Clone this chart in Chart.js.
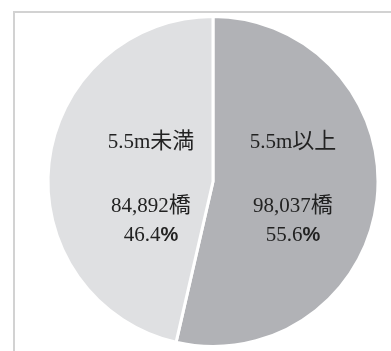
<!DOCTYPE html>
<html>
<head>
<meta charset="utf-8">
<script src="https://cdn.jsdelivr.net/npm/chart.js@4"></script>
<style>
  html, body { margin: 0; padding: 0; background: #fff; overflow: hidden; }
  #frame { position: absolute; left: 13px; top: 11px; width: 400px; height: 360px;
           border-left: 2px solid #d2d2d2; border-top: 2px solid #d2d2d2; }
  #chart { position: absolute; left: 0; top: 0; }
</style>
</head>
<body>
<div id="frame"></div>
<canvas id="chart" width="391" height="351"></canvas>
<script>
const categories = ['5.5m以上', '5.5m未満'];
const bridgeCounts = [98037, 84892];
const countLabels = ['98,037', '84,892'];
const percentLabels = ['55.6', '46.4'];
const sliceColors = ['#b1b2b6', '#dfe0e2'];

// label column offset from pie centre, per slice
const labelOffsetX = [80, -62];

const serif = '21px "Liberation Serif", "Noto Sans CJK JP"';
const cjk = '22px "Noto Sans CJK JP"';
const sans = 'bold 20px "Liberation Sans"';

function drawRuns(ctx, runs, cx, baseline) {
    let total = 0;
    runs.forEach(r => { ctx.font = r.font; r.w = ctx.measureText(r.text).width; total += r.w; });
    let x = cx - total / 2;
    runs.forEach(r => {
        ctx.font = r.font;
        ctx.fillText(r.text, x, baseline);
        x += r.w;
    });
}

const sliceLabels = {
    id: 'sliceLabels',
    afterDraw(chart) {
        const ctx = chart.ctx;
        const arc = chart.getDatasetMeta(0).data[0];
        const cx = arc.x, cy = arc.y;
        ctx.save();
        ctx.fillStyle = '#222';
        ctx.textAlign = 'left';
        ctx.textBaseline = 'alphabetic';
        categories.forEach((cat, i) => {
            const x = cx + labelOffsetX[i];
            const m = cat.match(/^([0-9.m]+)(.*)$/);
            drawRuns(ctx, [{ text: m[1], font: serif }, { text: m[2], font: cjk }], x, cy - 34);
            drawRuns(ctx, [{ text: countLabels[i], font: serif }, { text: '橋', font: cjk }], x, cy + 30);
            drawRuns(ctx, [{ text: percentLabels[i], font: serif }, { text: '%', font: sans }], x, cy + 59);
        });
        ctx.restore();
    }
};

new Chart(document.getElementById('chart').getContext('2d'), {
    type: 'pie',
    data: {
        labels: categories,
        datasets: [{
            data: bridgeCounts,
            backgroundColor: sliceColors,
            borderColor: '#ffffff',
            borderWidth: 3
        }]
    },
    options: {
        responsive: false,
        animation: false,
        layout: { padding: { left: 35, right: 0, top: 15, bottom: 3 } },
        plugins: { legend: { display: false }, tooltip: { enabled: false } }
    },
    plugins: [sliceLabels]
});
</script>
</body>
</html>
